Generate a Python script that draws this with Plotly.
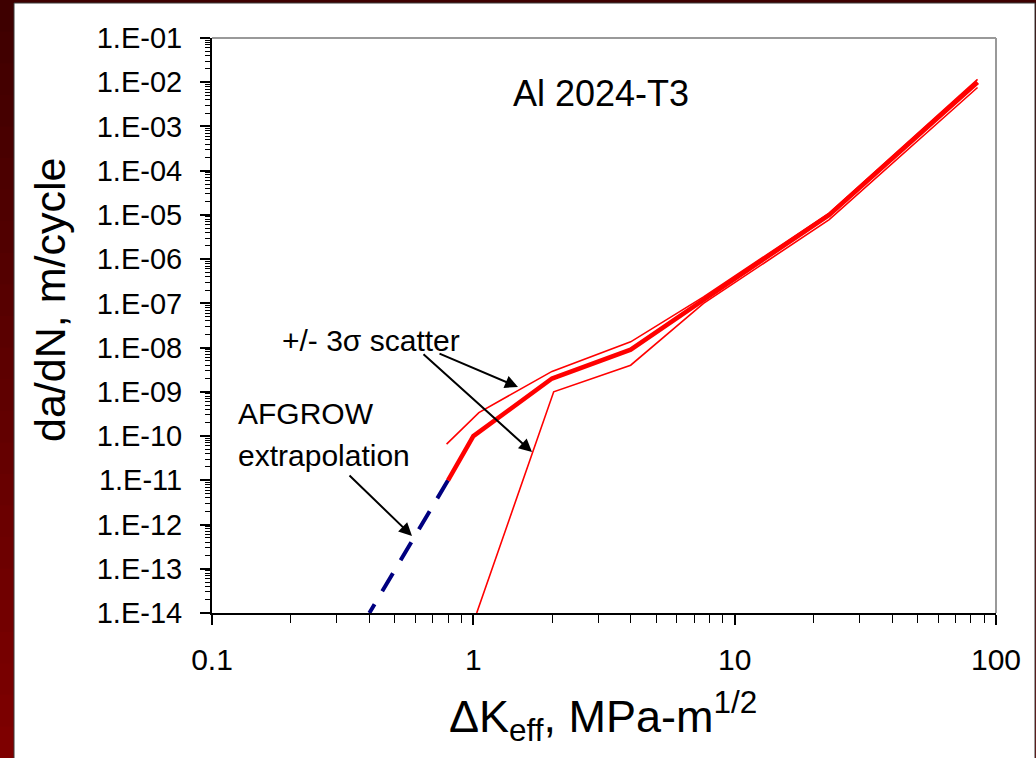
import plotly.graph_objects as go

# ---- data ----
main_dk = [0.8, 1.0, 2.0, 4.0, 7.6, 23.0, 85.0]
main_rate = [1.0e-11, 1.0e-10, 2.0e-9, 9.0e-9, 1.2e-7, 1.0e-5, 1.0e-2]

upper_dk = [0.79, 1.05, 2.0, 4.0, 7.6, 23.0, 85.0]
upper_rate = [6.6e-11, 3.4e-10, 2.9e-9, 1.35e-8, 1.4e-7, 1.1e-5, 1.16e-2]

lower_dk = [1.03, 2.03, 4.0, 7.6, 23.0, 85.0]
lower_rate = [1.0e-14, 1.0e-9, 4.0e-9, 1.0e-7, 7.8e-6, 7.6e-3]

extrap_dk = [0.8, 0.4]
extrap_rate = [1.0e-11, 1.0e-14]

x_tickvals = [0.1, 1, 10, 100]
x_ticktext = ["0.1", "1", "10", "100"]
y_exps = list(range(-14, 0))
y_tickvals = [10.0 ** e for e in y_exps]
y_ticktext = ["1.E-%02d" % (-e) for e in y_exps]

FONT = "Arial, Liberation Sans, sans-serif"

W, H = 1036, 758
L, R, T, B = 212, 40, 38, 145
PW, PH = W - L - R, H - T - B


def px(xp):
    return (xp - L) / PW


def py(yp):
    return (H - B - yp) / PH


fig = go.Figure()

fig.add_trace(go.Scatter(x=extrap_dk, y=extrap_rate, mode="lines",
                         line=dict(color="#000080", width=4, dash="21px,15px"),
                         hoverinfo="skip", showlegend=False))
fig.add_trace(go.Scatter(x=upper_dk, y=upper_rate, mode="lines",
                         line=dict(color="#ff0000", width=1.6),
                         showlegend=False))
fig.add_trace(go.Scatter(x=lower_dk, y=lower_rate, mode="lines",
                         line=dict(color="#ff0000", width=1.6),
                         showlegend=False))
fig.add_trace(go.Scatter(x=main_dk, y=main_rate, mode="lines",
                         line=dict(color="#ff0000", width=4.5),
                         showlegend=False))

shapes = []
# dark red frame with vertical gradient
n = 24
top_c = (0x3e, 0x00, 0x00)
bot_c = (0x7e, 0x00, 0x00)
for i in range(n):
    f = i / (n - 1)
    c = tuple(int(round(top_c[k] + (bot_c[k] - top_c[k]) * f)) for k in range(3))
    y0 = H * i / n
    y1 = H * (i + 1) / n + 1
    shapes.append(dict(type="rect", xref="paper", yref="paper",
                       x0=px(0), x1=px(W), y0=py(y1), y1=py(y0),
                       fillcolor="rgb(%d,%d,%d)" % c, line=dict(width=0),
                       layer="below"))
# white panel
shapes.append(dict(type="rect", xref="paper", yref="paper",
                   x0=px(14), x1=px(1035), y0=py(H + 2), y1=py(3),
                   fillcolor="white", line=dict(color="#3a3a3a", width=1),
                   layer="below"))
# gray top / right frame of plot area
shapes.append(dict(type="line", xref="paper", yref="paper",
                   x0=0, x1=1, y0=1, y1=1,
                   line=dict(color="#999999", width=2), layer="above"))
shapes.append(dict(type="line", xref="paper", yref="paper",
                   x0=1, x1=1, y0=0, y1=1,
                   line=dict(color="#999999", width=2), layer="above"))


def label(text, x, y, size, xanchor="center", angle=0):
    return dict(text=text, xref="paper", yref="paper", x=px(x), y=py(y),
                xanchor=xanchor, yanchor="middle", textangle=angle,
                showarrow=False, font=dict(family=FONT, size=size, color="black"))


def arrow(x_head, y_head, x_tail, y_tail):
    return dict(text="", xref="paper", yref="paper", x=px(x_head), y=py(y_head),
                ax=x_tail - x_head, ay=y_tail - y_head, axref="pixel", ayref="pixel",
                showarrow=True, arrowhead=2, arrowsize=1.3, arrowwidth=2,
                arrowcolor="black", standoff=0)


annotations = [
    label("Al 2024-T3", 601, 94, 36),
    label("+/- 3σ scatter", 371, 340, 30),
    label("AFGROW", 236, 413, 30, xanchor="left"),
    label("extrapolation", 236, 455, 30, xanchor="left"),
    arrow(518, 387, 438, 353),
    arrow(532, 452, 422, 353),
    arrow(412, 536, 348, 474),
    label("da/dN, m/cycle", 50, 300, 43, angle=-90),
    label("ΔK<sub>eff</sub>, MPa-m<sup>1/2</sup>", 603, 716, 45),
]

fig.update_layout(
    width=W, height=H,
    margin=dict(l=L, r=R, t=T, b=B, pad=0),
    paper_bgcolor="#5a0000",
    plot_bgcolor="rgba(0,0,0,0)",
    shapes=shapes,
    annotations=annotations,
    showlegend=False,
    font=dict(family=FONT, color="black"),
)

fig.update_xaxes(
    type="log", range=[-1, 2], showgrid=False, zeroline=False,
    showline=True, linecolor="black", linewidth=2,
    ticks="outside", ticklen=10, tickwidth=2, tickcolor="black",
    tickmode="array", tickvals=x_tickvals, ticktext=x_ticktext,
    tickfont=dict(family=FONT, size=30, color="black"),
    ticklabelstandoff=9,
    minor=dict(ticks="outside", ticklen=8, tickwidth=1, tickcolor="black",
               dtick="D1", showgrid=False),
)
fig.update_yaxes(
    type="log", range=[-14, -1], showgrid=False, zeroline=False,
    showline=True, linecolor="black", linewidth=2,
    ticks="outside", ticklen=10, tickwidth=1.5, tickcolor="black",
    tickmode="array", tickvals=y_tickvals, ticktext=y_ticktext,
    tickfont=dict(family=FONT, size=29, color="black"),
    ticklabelstandoff=12,
    minor=dict(ticks="outside", ticklen=5, tickwidth=1, tickcolor="black",
               dtick="D1", showgrid=False),
)

fig.write_html("out.html")
